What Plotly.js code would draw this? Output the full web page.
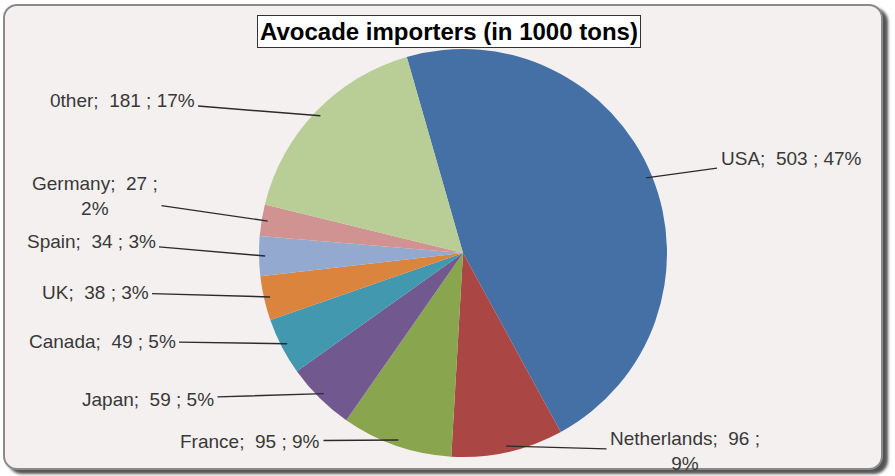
<!DOCTYPE html>
<html>
<head>
<meta charset="utf-8">
<script src="https://cdn.plot.ly/plotly-3.0.1.min.js"></script>
<style>
  html, body { margin: 0; padding: 0; background: #ffffff; width: 895px; height: 476px; overflow: hidden; }
  #frame { position: absolute; left: 3px; top: 4px; width: 876px; height: 462px;
           border: 2px solid #8a8a8a; border-radius: 14px; background: #F5F0F0;
           box-shadow: 5px 4px 3px #555555; }
  #chart { position: absolute; left: 0; top: 0; width: 895px; height: 476px; }
</style>
</head>
<body>
<div id="frame"></div>
<div id="chart"></div>
<script>
// ---- data ----
const categories = ["USA", "Netherlands", "France", "Japan", "Canada", "UK", "Spain", "Germany", "0ther"];
const values     = [503, 96, 95, 59, 49, 38, 34, 27, 181];
const percents   = [47, 9, 9, 5, 5, 3, 3, 2, 17];
const colors     = ["#4470A6", "#AA4644", "#89A54E", "#71588F", "#4198AF", "#DB843D", "#93A9CF", "#D19392", "#B9CD96"];

// ---- layout (pixels) ----
const W = 895, H = 476;
const cx = 463, cy = 253, R = 204;
const rotation = -16;
// label centres (pixels) and line breaks
const labelPos = [[791,158],[685,451],[250,441],[148,399],[102,341],[95,292],[91,241],[95,196],[122,100]];
const wrapAfterValue = [false, true, false, false, false, false, false, true, false];

const total = values.reduce((a,b)=>a+b,0);
let cum = 0;
const annotations = [];
values.forEach((v, i) => {
  const mid = rotation + (cum + v/2) / total * 360;
  cum += v;
  const a = mid * Math.PI / 180;
  const hx = cx + R*0.97*Math.sin(a), hy = cy - R*0.97*Math.cos(a);
  const txt = categories[i] + ";  " + v + " ;" + (wrapAfterValue[i] ? "<br>" : " ") + percents[i] + "%";
  annotations.push({
    xref: "paper", yref: "paper",
    x: hx / W, y: 1 - hy / H,
    ax: labelPos[i][0] - hx, ay: labelPos[i][1] - hy,
    text: txt, showarrow: true, arrowhead: 0, arrowwidth: 1.4, arrowcolor: "#2b2b2b",
    standoff: 0, startstandoff: 2,
    font: {family: "Liberation Sans, Arial, sans-serif", size: 19, color: "#383838"},
    align: "center"
  });
});
annotations.push({
  xref: "paper", yref: "paper", x: 448.5 / W, y: 1 - 32 / H,
  xanchor: "center", yanchor: "middle", showarrow: false,
  text: "<b>Avocade importers (in 1000 tons)</b>",
  font: {family: "Liberation Sans, Arial, sans-serif", size: 24, color: "#000000"},
  bordercolor: "#333333", borderwidth: 1, borderpad: 2, bgcolor: "#FFFFFF"
});

const trace = {
  type: "pie",
  labels: categories,
  values: values,
  sort: false,
  direction: "clockwise",
  rotation: rotation,
  textinfo: "none",
  marker: {colors: colors, line: {width: 0}},
  domain: {x: [(cx - R)/W, (cx + R)/W], y: [(H - cy - R)/H, (H - cy + R)/H]},
  showlegend: false
};

const layout = {
  width: W, height: H,
  margin: {l: 0, r: 0, t: 0, b: 0},
  paper_bgcolor: "rgba(0,0,0,0)",
  plot_bgcolor: "rgba(0,0,0,0)",
  annotations: annotations,
  showlegend: false
};

Plotly.newPlot("chart", [trace], layout, {displayModeBar: false, staticPlot: true});
</script>
</body>
</html>
